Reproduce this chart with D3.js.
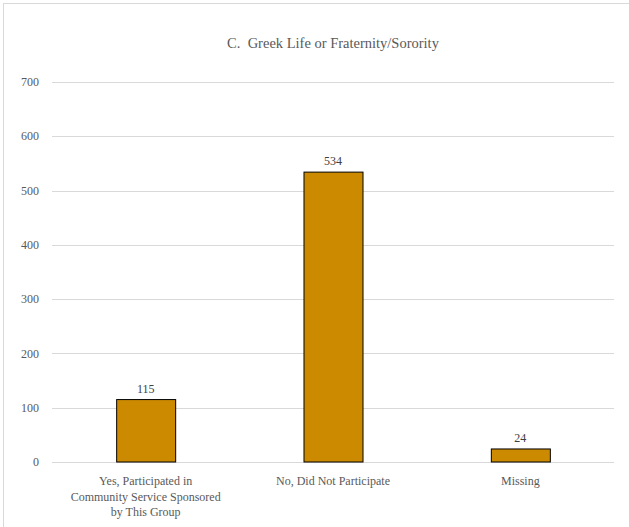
<!DOCTYPE html>
<html><head><meta charset="utf-8">
<script src="https://cdn.jsdelivr.net/npm/d3@7/dist/d3.min.js"></script>
<style>
@font-face { font-family: "ChartSerif"; src: local("Liberation Serif"), local("LiberationSerif"), local("Times New Roman"); }
body{margin:0;background:#fff}
svg{display:block}
</style>
</head><body>
<svg id="c" width="629" height="527"></svg>
<script>
const categories = ["Yes, Participated in|Community Service Sponsored|by This Group", "No, Did Not Participate", "Missing"];
const values = [115, 534, 24];
const yTicks = [0, 100, 200, 300, 400, 500, 600, 700];
const chartTitle = "C.\u00a0 Greek Life or Fraternity/Sorority";

(function () {
const FF = '"Times New Roman", "ChartSerif", "Liberation Serif", serif';
const svg = d3.select("#c");
svg.append("rect").attr("x", 3.5).attr("y", 3.5).attr("width", 640).attr("height", 540)
  .attr("fill", "#fff").attr("stroke", "#d9d9d9").attr("stroke-width", 1);

const pL = 52, pR = 614, pT = 82, pB = 462;
const x = d3.scaleBand().domain(categories).range([pL, pR]).paddingInner(0.685).paddingOuter(0.3425);
const y = d3.scaleLinear().domain([0, 700]).range([pB, pT]);

const txt = (sel) => sel.style("font-family", FF);

txt(svg.append("text")).attr("x", 333).attr("y", 48).attr("text-anchor", "middle")
  .style("font-size", "14.5px").attr("fill", "#595959").text(chartTitle);

const g = svg.append("g");
g.selectAll("line.grid").data(yTicks).join("line").attr("class", "grid")
  .attr("x1", pL).attr("x2", pR).attr("y1", d => Math.round(y(d)) + 0.5).attr("y2", d => Math.round(y(d)) + 0.5)
  .attr("stroke", "#d9d9d9").attr("stroke-width", 1);
txt(g.selectAll("text.yt").data(yTicks).join("text").attr("class", "yt"))
  .attr("x", 39).attr("y", d => y(d)).attr("dy", "0.35em").attr("text-anchor", "end")
  .style("font-size", "12px").attr("fill", "#595959").text(d => d);

g.selectAll("rect.bar").data(values).join("rect").attr("class", "bar")
  .attr("x", (d, i) => x(categories[i]) + 0.5).attr("width", x.bandwidth())
  .attr("y", d => y(d)).attr("height", d => pB - y(d))
  .attr("fill", "#cc8a00").attr("stroke", "#000").attr("stroke-width", 1);

txt(g.selectAll("text.val").data(values).join("text").attr("class", "val"))
  .attr("x", (d, i) => x(categories[i]) + x.bandwidth() / 2).attr("y", d => y(d) - 7)
  .attr("text-anchor", "middle").style("font-size", "12px").attr("fill", "#404040").text(d => d);

categories.forEach(c => {
  const cx = x(c) + x.bandwidth() / 2;
  const t = txt(g.append("text")).attr("x", cx).attr("y", 485)
    .attr("text-anchor", "middle").style("font-size", "12px").attr("fill", "#595959");
  c.split("|").forEach((line, i) => t.append("tspan").attr("x", cx).attr("dy", i ? 15.5 : 0).text(line));
});
})();
</script>
</body></html>
